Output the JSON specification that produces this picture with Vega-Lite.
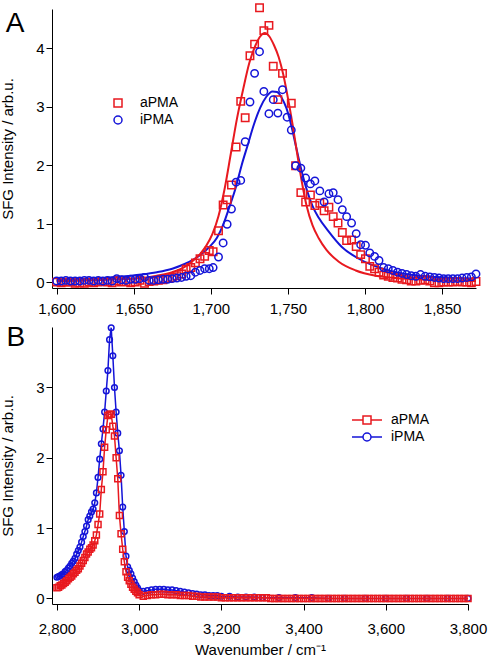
{
"$schema": "https://vega.github.io/schema/vega-lite/v6.json",
"padding": {"left": 0, "top": 1, "right": 5, "bottom": 3},
"spacing": 5,
"config": {
  "font": "Liberation Sans",
  "view": {"stroke": null},
  "axis": {"grid": false, "domainColor": "#000", "tickColor": "#000", "labelColor": "#000", "titleColor": "#000", "labelFontSize": 15, "titleFontSize": 15, "titleFontWeight": "normal", "tickSize": 6, "labelFont": "Liberation Sans", "titleFont": "Liberation Sans"},
  "axisY": {"titlePadding": 20, "labelPadding": 2},
  "axisX": {"labelPadding": 7, "labelFlush": false, "titlePadding": 6},
  "legend": {"labelFontSize": 14, "labelColor": "#000", "padding": 0, "rowPadding": 3, "symbolStrokeWidth": 1.5, "symbolSize": 64, "labelOffset": 15, "labelFont": "Liberation Sans"}
},
"resolve": {"scale": {"color": "independent", "shape": "independent"}, "legend": {"color": "independent", "shape": "independent"}},
"datasets": {
"fa": [
{"x":1600,"y":0.02,"s":"aPMA"},{"x":1620,"y":0.03,"s":"aPMA"},{"x":1640,"y":0.05,"s":"aPMA"},{"x":1655,"y":0.07,"s":"aPMA"},{"x":1665,"y":0.11,"s":"aPMA"},{"x":1675,"y":0.17,"s":"aPMA"},{"x":1683,"y":0.26,"s":"aPMA"},{"x":1689,"y":0.38,"s":"aPMA"},{"x":1693,"y":0.48,"s":"aPMA"},{"x":1697,"y":0.62,"s":"aPMA"},{"x":1701,"y":0.82,"s":"aPMA"},{"x":1705,"y":1.13,"s":"aPMA"},{"x":1709,"y":1.6,"s":"aPMA"},{"x":1713,"y":2.2,"s":"aPMA"},{"x":1717,"y":2.8,"s":"aPMA"},{"x":1721,"y":3.3,"s":"aPMA"},{"x":1725,"y":3.75,"s":"aPMA"},{"x":1729,"y":4.05,"s":"aPMA"},{"x":1732,"y":4.2,"s":"aPMA"},{"x":1735,"y":4.26,"s":"aPMA"},{"x":1738,"y":4.2,"s":"aPMA"},{"x":1741,"y":4.05,"s":"aPMA"},{"x":1744,"y":3.85,"s":"aPMA"},{"x":1747,"y":3.55,"s":"aPMA"},{"x":1750,"y":3.15,"s":"aPMA"},{"x":1753,"y":2.7,"s":"aPMA"},{"x":1756,"y":2.2,"s":"aPMA"},{"x":1759,"y":1.72,"s":"aPMA"},{"x":1762,"y":1.32,"s":"aPMA"},{"x":1766,"y":0.97,"s":"aPMA"},{"x":1770,"y":0.75,"s":"aPMA"},{"x":1775,"y":0.55,"s":"aPMA"},{"x":1783,"y":0.35,"s":"aPMA"},{"x":1794,"y":0.2,"s":"aPMA"},{"x":1807,"y":0.11,"s":"aPMA"},{"x":1820,"y":0.07,"s":"aPMA"},{"x":1840,"y":0.04,"s":"aPMA"},{"x":1872,"y":0.02,"s":"aPMA"},
{"x":1600,"y":0.04,"s":"iPMA"},{"x":1620,"y":0.06,"s":"iPMA"},{"x":1640,"y":0.09,"s":"iPMA"},{"x":1655,"y":0.13,"s":"iPMA"},{"x":1665,"y":0.17,"s":"iPMA"},{"x":1675,"y":0.23,"s":"iPMA"},{"x":1683,"y":0.31,"s":"iPMA"},{"x":1689,"y":0.39,"s":"iPMA"},{"x":1694,"y":0.48,"s":"iPMA"},{"x":1699,"y":0.6,"s":"iPMA"},{"x":1704,"y":0.76,"s":"iPMA"},{"x":1708,"y":0.98,"s":"iPMA"},{"x":1712,"y":1.28,"s":"iPMA"},{"x":1716,"y":1.6,"s":"iPMA"},{"x":1720,"y":2.0,"s":"iPMA"},{"x":1724,"y":2.35,"s":"iPMA"},{"x":1728,"y":2.7,"s":"iPMA"},{"x":1732,"y":2.98,"s":"iPMA"},{"x":1736,"y":3.17,"s":"iPMA"},{"x":1740,"y":3.26,"s":"iPMA"},{"x":1743,"y":3.25,"s":"iPMA"},{"x":1746,"y":3.15,"s":"iPMA"},{"x":1749,"y":2.98,"s":"iPMA"},{"x":1752,"y":2.7,"s":"iPMA"},{"x":1755,"y":2.35,"s":"iPMA"},{"x":1758,"y":2.0,"s":"iPMA"},{"x":1762,"y":1.6,"s":"iPMA"},{"x":1766,"y":1.3,"s":"iPMA"},{"x":1770,"y":1.1,"s":"iPMA"},{"x":1776,"y":0.88,"s":"iPMA"},{"x":1785,"y":0.6,"s":"iPMA"},{"x":1796,"y":0.4,"s":"iPMA"},{"x":1809,"y":0.25,"s":"iPMA"},{"x":1820,"y":0.17,"s":"iPMA"},{"x":1840,"y":0.1,"s":"iPMA"},{"x":1872,"y":0.06,"s":"iPMA"}
],
"pa": [
{"x":1600,"y":0.0,"s":"aPMA"},{"x":1603,"y":-0.01,"s":"aPMA"},{"x":1606,"y":0.0,"s":"aPMA"},{"x":1609,"y":0.0,"s":"aPMA"},{"x":1612,"y":-0.02,"s":"aPMA"},{"x":1615,"y":-0.01,"s":"aPMA"},{"x":1618,"y":-0.02,"s":"aPMA"},{"x":1621,"y":0.0,"s":"aPMA"},{"x":1624,"y":-0.01,"s":"aPMA"},{"x":1627,"y":0.0,"s":"aPMA"},{"x":1630,"y":0.01,"s":"aPMA"},{"x":1633,"y":0.0,"s":"aPMA"},{"x":1636,"y":-0.01,"s":"aPMA"},{"x":1639,"y":0.02,"s":"aPMA"},{"x":1642,"y":0.0,"s":"aPMA"},{"x":1645,"y":0.01,"s":"aPMA"},{"x":1648,"y":-0.01,"s":"aPMA"},{"x":1651,"y":0.0,"s":"aPMA"},{"x":1654,"y":0.03,"s":"aPMA"},{"x":1657,"y":-0.02,"s":"aPMA"},{"x":1660,"y":0.01,"s":"aPMA"},{"x":1663,"y":0.02,"s":"aPMA"},{"x":1666,"y":0.03,"s":"aPMA"},{"x":1669,"y":0.04,"s":"aPMA"},{"x":1672,"y":0.06,"s":"aPMA"},{"x":1675,"y":0.08,"s":"aPMA"},{"x":1678,"y":0.11,"s":"aPMA"},{"x":1681,"y":0.14,"s":"aPMA"},{"x":1684,"y":0.22,"s":"aPMA"},{"x":1687,"y":0.25,"s":"aPMA"},{"x":1690,"y":0.33,"s":"aPMA"},{"x":1693,"y":0.4,"s":"aPMA"},{"x":1696,"y":0.44,"s":"aPMA"},{"x":1699,"y":0.54,"s":"aPMA"},{"x":1701.5,"y":0.52,"s":"aPMA"},{"x":1705,"y":0.88,"s":"aPMA"},{"x":1708,"y":1.32,"s":"aPMA"},{"x":1710.6,"y":1.41,"s":"aPMA"},{"x":1713.4,"y":1.66,"s":"aPMA"},{"x":1716.4,"y":2.31,"s":"aPMA"},{"x":1719.4,"y":3.09,"s":"aPMA"},{"x":1722.3,"y":2.81,"s":"aPMA"},{"x":1725.4,"y":3.87,"s":"aPMA"},{"x":1728.4,"y":4.07,"s":"aPMA"},{"x":1731.6,"y":4.69,"s":"aPMA"},{"x":1734.4,"y":4.3,"s":"aPMA"},{"x":1737.7,"y":4.39,"s":"aPMA"},{"x":1740.5,"y":3.69,"s":"aPMA"},{"x":1743.5,"y":3.12,"s":"aPMA"},{"x":1746.5,"y":3.57,"s":"aPMA"},{"x":1752.2,"y":3.06,"s":"aPMA"},{"x":1755,"y":1.99,"s":"aPMA"},{"x":1758.4,"y":1.53,"s":"aPMA"},{"x":1761.5,"y":1.37,"s":"aPMA"},{"x":1764.6,"y":1.49,"s":"aPMA"},{"x":1767.5,"y":1.31,"s":"aPMA"},{"x":1770.7,"y":1.35,"s":"aPMA"},{"x":1773.5,"y":1.22,"s":"aPMA"},{"x":1776.6,"y":1.28,"s":"aPMA"},{"x":1779.4,"y":1.12,"s":"aPMA"},{"x":1782.5,"y":1.01,"s":"aPMA"},{"x":1785.3,"y":0.85,"s":"aPMA"},{"x":1788.1,"y":0.71,"s":"aPMA"},{"x":1791.3,"y":0.72,"s":"aPMA"},{"x":1794.3,"y":0.61,"s":"aPMA"},{"x":1797.2,"y":0.47,"s":"aPMA"},{"x":1800.3,"y":0.4,"s":"aPMA"},{"x":1803.1,"y":0.27,"s":"aPMA"},{"x":1806.2,"y":0.23,"s":"aPMA"},{"x":1809.1,"y":0.17,"s":"aPMA"},{"x":1812.1,"y":0.12,"s":"aPMA"},{"x":1815.1,"y":0.1,"s":"aPMA"},{"x":1818.1,"y":0.08,"s":"aPMA"},{"x":1821.1,"y":0.07,"s":"aPMA"},{"x":1824,"y":0.05,"s":"aPMA"},{"x":1827,"y":0.04,"s":"aPMA"},{"x":1830,"y":0.02,"s":"aPMA"},{"x":1833,"y":0.02,"s":"aPMA"},{"x":1836,"y":0.03,"s":"aPMA"},{"x":1839,"y":0.04,"s":"aPMA"},{"x":1842,"y":0.02,"s":"aPMA"},{"x":1845,"y":-0.01,"s":"aPMA"},{"x":1848,"y":-0.01,"s":"aPMA"},{"x":1851,"y":0.0,"s":"aPMA"},{"x":1854,"y":0.0,"s":"aPMA"},{"x":1857,"y":0.0,"s":"aPMA"},{"x":1860,"y":0.01,"s":"aPMA"},{"x":1863,"y":0.0,"s":"aPMA"},{"x":1866,"y":0.0,"s":"aPMA"},{"x":1869,"y":-0.01,"s":"aPMA"},{"x":1872,"y":0.01,"s":"aPMA"},
{"x":1600,"y":0.02,"s":"iPMA"},{"x":1603,"y":0.02,"s":"iPMA"},{"x":1606,"y":0.03,"s":"iPMA"},{"x":1609,"y":0.02,"s":"iPMA"},{"x":1612,"y":0.02,"s":"iPMA"},{"x":1615,"y":0.02,"s":"iPMA"},{"x":1618,"y":0.03,"s":"iPMA"},{"x":1621,"y":0.03,"s":"iPMA"},{"x":1624,"y":0.02,"s":"iPMA"},{"x":1627,"y":0.03,"s":"iPMA"},{"x":1630,"y":0.02,"s":"iPMA"},{"x":1633,"y":0.03,"s":"iPMA"},{"x":1636,"y":0.02,"s":"iPMA"},{"x":1639,"y":0.06,"s":"iPMA"},{"x":1642,"y":0.04,"s":"iPMA"},{"x":1645,"y":0.03,"s":"iPMA"},{"x":1648,"y":0.05,"s":"iPMA"},{"x":1651,"y":0.05,"s":"iPMA"},{"x":1654,"y":0.06,"s":"iPMA"},{"x":1657,"y":0.08,"s":"iPMA"},{"x":1660,"y":0.03,"s":"iPMA"},{"x":1663,"y":0.03,"s":"iPMA"},{"x":1666,"y":0.04,"s":"iPMA"},{"x":1669,"y":0.05,"s":"iPMA"},{"x":1672,"y":0.05,"s":"iPMA"},{"x":1675,"y":0.06,"s":"iPMA"},{"x":1678,"y":0.07,"s":"iPMA"},{"x":1681,"y":0.08,"s":"iPMA"},{"x":1684,"y":0.1,"s":"iPMA"},{"x":1687,"y":0.11,"s":"iPMA"},{"x":1690,"y":0.17,"s":"iPMA"},{"x":1693,"y":0.2,"s":"iPMA"},{"x":1696,"y":0.23,"s":"iPMA"},{"x":1699,"y":0.23,"s":"iPMA"},{"x":1701.5,"y":0.25,"s":"iPMA"},{"x":1705,"y":0.43,"s":"iPMA"},{"x":1708,"y":0.67,"s":"iPMA"},{"x":1710.6,"y":0.99,"s":"iPMA"},{"x":1713.4,"y":1.25,"s":"iPMA"},{"x":1716.4,"y":1.71,"s":"iPMA"},{"x":1719.4,"y":1.74,"s":"iPMA"},{"x":1722.3,"y":2.4,"s":"iPMA"},{"x":1725.4,"y":3.08,"s":"iPMA"},{"x":1728.4,"y":3.57,"s":"iPMA"},{"x":1731.6,"y":3.94,"s":"iPMA"},{"x":1734.4,"y":3.26,"s":"iPMA"},{"x":1737.7,"y":2.88,"s":"iPMA"},{"x":1740.5,"y":3.12,"s":"iPMA"},{"x":1743.5,"y":2.89,"s":"iPMA"},{"x":1746.5,"y":3.29,"s":"iPMA"},{"x":1749.5,"y":2.82,"s":"iPMA"},{"x":1752.2,"y":2.6,"s":"iPMA"},{"x":1755,"y":1.99,"s":"iPMA"},{"x":1758.4,"y":1.95,"s":"iPMA"},{"x":1761.5,"y":1.78,"s":"iPMA"},{"x":1764.6,"y":1.68,"s":"iPMA"},{"x":1767.5,"y":1.73,"s":"iPMA"},{"x":1770.7,"y":1.56,"s":"iPMA"},{"x":1773.5,"y":1.37,"s":"iPMA"},{"x":1776.6,"y":1.51,"s":"iPMA"},{"x":1779.4,"y":1.53,"s":"iPMA"},{"x":1782.5,"y":1.41,"s":"iPMA"},{"x":1785.3,"y":1.24,"s":"iPMA"},{"x":1788.1,"y":1.12,"s":"iPMA"},{"x":1791.3,"y":1.01,"s":"iPMA"},{"x":1794.3,"y":0.83,"s":"iPMA"},{"x":1797.2,"y":0.64,"s":"iPMA"},{"x":1800.3,"y":0.63,"s":"iPMA"},{"x":1803.1,"y":0.5,"s":"iPMA"},{"x":1806.2,"y":0.44,"s":"iPMA"},{"x":1809.1,"y":0.37,"s":"iPMA"},{"x":1812.1,"y":0.25,"s":"iPMA"},{"x":1815.1,"y":0.23,"s":"iPMA"},{"x":1818.1,"y":0.2,"s":"iPMA"},{"x":1821.1,"y":0.17,"s":"iPMA"},{"x":1824,"y":0.15,"s":"iPMA"},{"x":1827,"y":0.13,"s":"iPMA"},{"x":1830,"y":0.11,"s":"iPMA"},{"x":1833,"y":0.1,"s":"iPMA"},{"x":1836,"y":0.13,"s":"iPMA"},{"x":1839,"y":0.1,"s":"iPMA"},{"x":1842,"y":0.09,"s":"iPMA"},{"x":1845,"y":0.08,"s":"iPMA"},{"x":1848,"y":0.07,"s":"iPMA"},{"x":1851,"y":0.06,"s":"iPMA"},{"x":1854,"y":0.06,"s":"iPMA"},{"x":1857,"y":0.06,"s":"iPMA"},{"x":1860,"y":0.06,"s":"iPMA"},{"x":1863,"y":0.07,"s":"iPMA"},{"x":1866,"y":0.08,"s":"iPMA"},{"x":1869,"y":0.09,"s":"iPMA"},{"x":1872,"y":0.14,"s":"iPMA"}
],
"pb": [
{"x":2800,"y":0.3,"s":"iPMA"},{"x":2804,"y":0.31,"s":"iPMA"},{"x":2808,"y":0.32,"s":"iPMA"},{"x":2812,"y":0.34,"s":"iPMA"},{"x":2816,"y":0.35,"s":"iPMA"},{"x":2820,"y":0.38,"s":"iPMA"},{"x":2824,"y":0.4,"s":"iPMA"},{"x":2828,"y":0.43,"s":"iPMA"},{"x":2832,"y":0.46,"s":"iPMA"},{"x":2836,"y":0.5,"s":"iPMA"},{"x":2840,"y":0.53,"s":"iPMA"},{"x":2844,"y":0.57,"s":"iPMA"},{"x":2848,"y":0.63,"s":"iPMA"},{"x":2852,"y":0.68,"s":"iPMA"},{"x":2856,"y":0.73,"s":"iPMA"},{"x":2860,"y":0.8,"s":"iPMA"},{"x":2864,"y":0.88,"s":"iPMA"},{"x":2868,"y":0.95,"s":"iPMA"},{"x":2872,"y":1.03,"s":"iPMA"},{"x":2876,"y":1.12,"s":"iPMA"},{"x":2880,"y":1.17,"s":"iPMA"},{"x":2884,"y":1.23,"s":"iPMA"},{"x":2888,"y":1.27,"s":"iPMA"},{"x":2892,"y":1.36,"s":"iPMA"},{"x":2896,"y":1.5,"s":"iPMA"},{"x":2900,"y":1.72,"s":"iPMA"},{"x":2904,"y":1.98,"s":"iPMA"},{"x":2908,"y":2.2,"s":"iPMA"},{"x":2912,"y":2.41,"s":"iPMA"},{"x":2916,"y":2.65,"s":"iPMA"},{"x":2920,"y":2.95,"s":"iPMA"},{"x":2924,"y":3.24,"s":"iPMA"},{"x":2928,"y":3.68,"s":"iPMA"},{"x":2932,"y":3.85,"s":"iPMA"},{"x":2936,"y":3.45,"s":"iPMA"},{"x":2940,"y":3.0,"s":"iPMA"},{"x":2944,"y":2.65,"s":"iPMA"},{"x":2948,"y":2.35,"s":"iPMA"},{"x":2952,"y":2.1,"s":"iPMA"},{"x":2956,"y":1.75,"s":"iPMA"},{"x":2960,"y":1.3,"s":"iPMA"},{"x":2964,"y":0.95,"s":"iPMA"},{"x":2968,"y":0.6,"s":"iPMA"},{"x":2972,"y":0.45,"s":"iPMA"},{"x":2976,"y":0.4,"s":"iPMA"},{"x":2980,"y":0.35,"s":"iPMA"},{"x":2984,"y":0.29,"s":"iPMA"},{"x":2988,"y":0.24,"s":"iPMA"},{"x":2992,"y":0.19,"s":"iPMA"},{"x":2996,"y":0.15,"s":"iPMA"},{"x":3000,"y":0.11,"s":"iPMA"},
{"x":3010,"y":0.1,"s":"iPMA"},{"x":3020,"y":0.11,"s":"iPMA"},{"x":3030,"y":0.12,"s":"iPMA"},{"x":3040,"y":0.13,"s":"iPMA"},{"x":3050,"y":0.13,"s":"iPMA"},{"x":3060,"y":0.13,"s":"iPMA"},{"x":3070,"y":0.12,"s":"iPMA"},{"x":3080,"y":0.12,"s":"iPMA"},{"x":3090,"y":0.11,"s":"iPMA"},{"x":3100,"y":0.1,"s":"iPMA"},{"x":3110,"y":0.09,"s":"iPMA"},{"x":3120,"y":0.08,"s":"iPMA"},{"x":3130,"y":0.07,"s":"iPMA"},{"x":3140,"y":0.06,"s":"iPMA"},{"x":3150,"y":0.05,"s":"iPMA"},{"x":3160,"y":0.05,"s":"iPMA"},{"x":3170,"y":0.04,"s":"iPMA"},{"x":3180,"y":0.04,"s":"iPMA"},{"x":3190,"y":0.04,"s":"iPMA"},{"x":3200,"y":0.03,"s":"iPMA"},{"x":3220,"y":0.03,"s":"iPMA"},{"x":3240,"y":0.02,"s":"iPMA"},{"x":3260,"y":0.02,"s":"iPMA"},{"x":3280,"y":0.02,"s":"iPMA"},{"x":3300,"y":0.01,"s":"iPMA"},{"x":3340,"y":0.01,"s":"iPMA"},{"x":3380,"y":0.01,"s":"iPMA"},{"x":3420,"y":0.01,"s":"iPMA"},{"x":3460,"y":0.0,"s":"iPMA"},{"x":3500,"y":0.0,"s":"iPMA"},{"x":3550,"y":0.0,"s":"iPMA"},{"x":3600,"y":0.0,"s":"iPMA"},{"x":3650,"y":0.0,"s":"iPMA"},{"x":3700,"y":0.0,"s":"iPMA"},{"x":3750,"y":0.0,"s":"iPMA"},{"x":3800,"y":0.0,"s":"iPMA"},
{"x":2800,"y":0.15,"s":"aPMA"},{"x":2804,"y":0.16,"s":"aPMA"},{"x":2808,"y":0.18,"s":"aPMA"},{"x":2812,"y":0.19,"s":"aPMA"},{"x":2816,"y":0.21,"s":"aPMA"},{"x":2820,"y":0.23,"s":"aPMA"},{"x":2824,"y":0.25,"s":"aPMA"},{"x":2828,"y":0.28,"s":"aPMA"},{"x":2832,"y":0.3,"s":"aPMA"},{"x":2836,"y":0.32,"s":"aPMA"},{"x":2840,"y":0.35,"s":"aPMA"},{"x":2844,"y":0.37,"s":"aPMA"},{"x":2848,"y":0.4,"s":"aPMA"},{"x":2852,"y":0.42,"s":"aPMA"},{"x":2856,"y":0.46,"s":"aPMA"},{"x":2860,"y":0.5,"s":"aPMA"},{"x":2864,"y":0.54,"s":"aPMA"},{"x":2868,"y":0.58,"s":"aPMA"},{"x":2872,"y":0.63,"s":"aPMA"},{"x":2876,"y":0.66,"s":"aPMA"},{"x":2880,"y":0.7,"s":"aPMA"},{"x":2884,"y":0.72,"s":"aPMA"},{"x":2888,"y":0.76,"s":"aPMA"},{"x":2892,"y":0.82,"s":"aPMA"},{"x":2896,"y":0.9,"s":"aPMA"},{"x":2900,"y":1.05,"s":"aPMA"},{"x":2904,"y":1.2,"s":"aPMA"},{"x":2908,"y":1.55,"s":"aPMA"},{"x":2912,"y":1.8,"s":"aPMA"},{"x":2916,"y":2.15,"s":"aPMA"},{"x":2920,"y":2.4,"s":"aPMA"},{"x":2924,"y":2.6,"s":"aPMA"},{"x":2928,"y":2.62,"s":"aPMA"},{"x":2932,"y":2.62,"s":"aPMA"},{"x":2936,"y":2.45,"s":"aPMA"},{"x":2940,"y":2.31,"s":"aPMA"},{"x":2944,"y":2.0,"s":"aPMA"},{"x":2948,"y":1.7,"s":"aPMA"},{"x":2952,"y":1.18,"s":"aPMA"},{"x":2956,"y":0.92,"s":"aPMA"},{"x":2960,"y":0.7,"s":"aPMA"},{"x":2964,"y":0.52,"s":"aPMA"},{"x":2968,"y":0.38,"s":"aPMA"},{"x":2972,"y":0.3,"s":"aPMA"},{"x":2976,"y":0.25,"s":"aPMA"},{"x":2980,"y":0.2,"s":"aPMA"},{"x":2984,"y":0.16,"s":"aPMA"},{"x":2988,"y":0.13,"s":"aPMA"},{"x":2992,"y":0.1,"s":"aPMA"},{"x":2996,"y":0.08,"s":"aPMA"},{"x":3000,"y":0.05,"s":"aPMA"},
{"x":3010,"y":0.03,"s":"aPMA"},{"x":3020,"y":0.04,"s":"aPMA"},{"x":3030,"y":0.05,"s":"aPMA"},{"x":3040,"y":0.05,"s":"aPMA"},{"x":3050,"y":0.06,"s":"aPMA"},{"x":3060,"y":0.06,"s":"aPMA"},{"x":3070,"y":0.05,"s":"aPMA"},{"x":3080,"y":0.05,"s":"aPMA"},{"x":3090,"y":0.05,"s":"aPMA"},{"x":3100,"y":0.04,"s":"aPMA"},{"x":3110,"y":0.04,"s":"aPMA"},{"x":3120,"y":0.04,"s":"aPMA"},{"x":3130,"y":0.03,"s":"aPMA"},{"x":3140,"y":0.03,"s":"aPMA"},{"x":3150,"y":0.02,"s":"aPMA"},{"x":3160,"y":0.02,"s":"aPMA"},{"x":3170,"y":0.02,"s":"aPMA"},{"x":3180,"y":0.02,"s":"aPMA"},{"x":3190,"y":0.02,"s":"aPMA"},{"x":3200,"y":0.01,"s":"aPMA"},{"x":3210,"y":0.01,"s":"aPMA"},{"x":3220,"y":0.01,"s":"aPMA"},{"x":3230,"y":0.01,"s":"aPMA"},{"x":3240,"y":0.01,"s":"aPMA"},{"x":3250,"y":0.01,"s":"aPMA"},{"x":3260,"y":0.01,"s":"aPMA"},{"x":3270,"y":0.01,"s":"aPMA"},{"x":3280,"y":0.01,"s":"aPMA"},{"x":3290,"y":0.01,"s":"aPMA"},{"x":3300,"y":0.01,"s":"aPMA"},{"x":3310,"y":0.01,"s":"aPMA"},{"x":3320,"y":0.0,"s":"aPMA"},{"x":3330,"y":0.0,"s":"aPMA"},{"x":3340,"y":0.0,"s":"aPMA"},{"x":3350,"y":0.0,"s":"aPMA"},{"x":3360,"y":0.0,"s":"aPMA"},{"x":3370,"y":0.0,"s":"aPMA"},{"x":3380,"y":0.0,"s":"aPMA"},{"x":3390,"y":0.0,"s":"aPMA"},{"x":3400,"y":0.0,"s":"aPMA"},{"x":3410,"y":0.0,"s":"aPMA"},{"x":3420,"y":0.0,"s":"aPMA"},{"x":3430,"y":0.0,"s":"aPMA"},{"x":3440,"y":0.0,"s":"aPMA"},{"x":3450,"y":0.0,"s":"aPMA"},{"x":3460,"y":0.0,"s":"aPMA"},{"x":3470,"y":0.0,"s":"aPMA"},{"x":3480,"y":0.0,"s":"aPMA"},{"x":3490,"y":0.0,"s":"aPMA"},{"x":3500,"y":0.0,"s":"aPMA"},{"x":3510,"y":0.0,"s":"aPMA"},{"x":3520,"y":0.0,"s":"aPMA"},{"x":3530,"y":0.0,"s":"aPMA"},{"x":3540,"y":0.0,"s":"aPMA"},{"x":3550,"y":0.0,"s":"aPMA"},{"x":3560,"y":0.0,"s":"aPMA"},{"x":3570,"y":0.0,"s":"aPMA"},{"x":3580,"y":0.0,"s":"aPMA"},{"x":3590,"y":0.0,"s":"aPMA"},{"x":3600,"y":0.0,"s":"aPMA"},{"x":3610,"y":0.0,"s":"aPMA"},{"x":3620,"y":0.0,"s":"aPMA"},{"x":3630,"y":0.0,"s":"aPMA"},{"x":3640,"y":0.0,"s":"aPMA"},{"x":3650,"y":0.0,"s":"aPMA"},{"x":3660,"y":0.0,"s":"aPMA"},{"x":3670,"y":0.0,"s":"aPMA"},{"x":3680,"y":0.0,"s":"aPMA"},{"x":3690,"y":0.0,"s":"aPMA"},{"x":3700,"y":0.0,"s":"aPMA"},{"x":3710,"y":0.0,"s":"aPMA"},{"x":3720,"y":0.0,"s":"aPMA"},{"x":3730,"y":0.0,"s":"aPMA"},{"x":3740,"y":0.0,"s":"aPMA"},{"x":3750,"y":0.0,"s":"aPMA"},{"x":3760,"y":0.0,"s":"aPMA"},{"x":3770,"y":0.0,"s":"aPMA"},{"x":3780,"y":0.0,"s":"aPMA"},{"x":3790,"y":0.0,"s":"aPMA"},{"x":3800,"y":0.0,"s":"aPMA"}
]
},
"vconcat": [
{
 "width": 424, "height": 279,
 "layer": [
  {"data": {"name": "fa"},
   "transform": [{"filter": "datum.s == 'iPMA'"}],
   "mark": {"type": "line", "strokeWidth": 2, "interpolate": "monotone", "color": "#1414d8"},
   "encoding": {
     "x": {"field": "x", "type": "quantitative", "scale": {"domain": [1597, 1872], "nice": false, "zero": false}, "axis": {"values": [1600, 1650, 1700, 1750, 1800, 1850], "format": ",d", "title": null}},
     "y": {"field": "y", "type": "quantitative", "scale": {"domain": [-0.1, 4.67], "nice": false, "zero": false}, "axis": {"values": [0, 1, 2, 3, 4], "format": "d", "title": "SFG Intensity / arb.u."}}
   }},
  {"data": {"name": "fa"},
   "transform": [{"filter": "datum.s == 'aPMA'"}],
   "mark": {"type": "line", "strokeWidth": 2, "interpolate": "monotone", "color": "#e8191f"},
   "encoding": {
     "x": {"field": "x", "type": "quantitative"},
     "y": {"field": "y", "type": "quantitative"}
   }},
  {"data": {"name": "pa"},
   "mark": {"type": "point", "filled": false, "strokeWidth": 1.5, "size": 55, "opacity": 1},
   "encoding": {
     "x": {"field": "x", "type": "quantitative"},
     "y": {"field": "y", "type": "quantitative"},
     "color": {"field": "s", "type": "nominal", "scale": {"domain": ["aPMA", "iPMA"], "range": ["#e8191f", "#1414d8"]}, "legend": {"orient": "none", "legendX": 59, "legendY": 87, "title": null}},
     "shape": {"field": "s", "type": "nominal", "scale": {"domain": ["aPMA", "iPMA"], "range": ["square", "circle"]}, "legend": {"orient": "none", "legendX": 59, "legendY": 87, "title": null}}
   }},
  {"data": {"values": [{"t": "A"}]},
   "mark": {"type": "text", "fontSize": 28, "align": "center", "baseline": "alphabetic", "font": "Liberation Sans", "color": "#000"},
   "encoding": {
     "x": {"datum": 1573, "type": "quantitative"},
     "y": {"datum": 4.27, "type": "quantitative"},
     "text": {"field": "t"}
   }}
 ]
},
{
 "width": 416, "height": 277,
 "layer": [
  {"data": {"name": "pb"},
   "transform": [{"filter": "datum.s == 'iPMA'"}],
   "mark": {"type": "line", "strokeWidth": 1.5, "color": "#1414d8"},
   "encoding": {
     "x": {"field": "x", "type": "quantitative", "scale": {"domain": [2788, 3800], "nice": false, "zero": false}, "axis": {"values": [2800, 3000, 3200, 3400, 3600, 3800], "format": ",d", "title": "Wavenumber / cm⁻¹", "labelPadding": 11}},
     "y": {"field": "y", "type": "quantitative", "scale": {"domain": [-0.08, 3.86], "nice": false, "zero": false}, "axis": {"values": [0, 1, 2, 3], "format": "d", "title": "SFG Intensity / arb.u."}}
   }},
  {"data": {"name": "pb"},
   "transform": [{"filter": "datum.s == 'iPMA'"}],
   "mark": {"type": "circle", "filled": false, "strokeWidth": 1.5, "size": 32, "opacity": 1, "color": "#1414d8"},
   "encoding": {
     "x": {"field": "x", "type": "quantitative"},
     "y": {"field": "y", "type": "quantitative"}
   }},
  {"data": {"name": "pb"},
   "transform": [{"filter": "datum.s == 'aPMA'"}],
   "mark": {"type": "line", "strokeWidth": 1.5, "color": "#e8191f"},
   "encoding": {
     "x": {"field": "x", "type": "quantitative"},
     "y": {"field": "y", "type": "quantitative"}
   }},
  {"data": {"name": "pb"},
   "transform": [{"filter": "datum.s == 'aPMA'"}],
   "mark": {"type": "square", "filled": false, "strokeWidth": 1.5, "size": 36, "opacity": 1, "color": "#e8191f"},
   "encoding": {
     "x": {"field": "x", "type": "quantitative"},
     "y": {"field": "y", "type": "quantitative"}
   }},
  {"data": {"name": "pb"},
   "transform": [{"filter": "datum.x < 0"}],
   "mark": {"type": "point", "filled": false, "strokeWidth": 1.5, "size": 64, "opacity": 1},
   "encoding": {
     "x": {"field": "x", "type": "quantitative"},
     "y": {"field": "y", "type": "quantitative"},
     "color": {"field": "s", "type": "nominal", "scale": {"domain": ["aPMA", "iPMA"], "range": ["#e8191f", "#1414d8"]}, "legend": {"orient": "none", "legendX": 308, "legendY": 86, "title": null, "labelOffset": 17}},
     "shape": {"field": "s", "type": "nominal", "scale": {"domain": ["aPMA", "iPMA"], "range": ["M-3.75,0H-1M1,0H3.75M-1,-1H1V1H-1Z", "M-3.75,0H-1M1,0H3.75M-1,0A1,1,0,1,1,1,0A1,1,0,1,1,-1,0Z"]}, "legend": {"orient": "none", "legendX": 308, "legendY": 86, "title": null, "labelOffset": 17}}
   }},
  {"data": {"values": [{"t": "B"}]},
   "mark": {"type": "text", "fontSize": 28, "align": "center", "baseline": "alphabetic", "font": "Liberation Sans", "color": "#000"},
   "encoding": {
     "x": {"datum": 2700, "type": "quantitative"},
     "y": {"datum": 3.59, "type": "quantitative"},
     "text": {"field": "t"}
   }}
 ]
}
]
}
